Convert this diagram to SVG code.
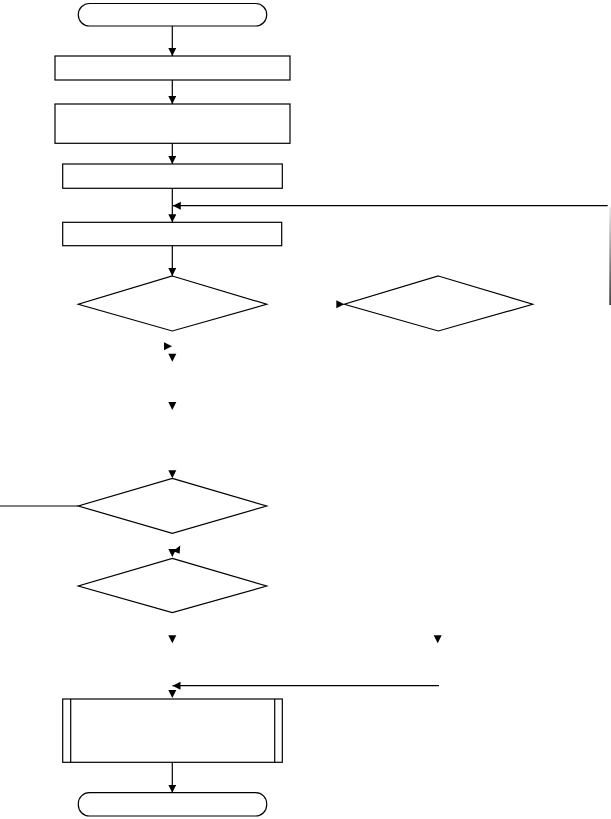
<svg xmlns="http://www.w3.org/2000/svg" xmlns:xlink="http://www.w3.org/1999/xlink" width="611" height="819" viewBox="0 0 611 819">
  <style>
    .shape { fill: #ffffff; stroke: #000000; stroke-width: 1.2; }
    .conn { fill: none; stroke: #000000; stroke-width: 1.2; }
    .head { fill: #000000; stroke: none; }
  </style>
  <defs>
    <marker id="arrow" markerUnits="userSpaceOnUse" markerWidth="9" markerHeight="9" refX="8" refY="4" orient="auto">
      <path d="M0,0 L8,4 L0,8 z" fill="#000000"/>
    </marker>
    <polygon id="ahDown" points="-4,-8 4,-8 0,0"/>
    <linearGradient id="fade" x1="0" y1="0" x2="0" y2="1">
      <stop offset="0" stop-color="#e6e6e6"/>
      <stop offset="1" stop-color="#111111"/>
    </linearGradient>
  </defs>
  <rect width="611" height="819" fill="#ffffff"/>

  <g id="start">
    <rect class="shape" x="78.3" y="3.5" width="188.4" height="22.5" rx="11" ry="11"/>
  </g>
  <g id="box1">
    <rect class="shape" x="55" y="56" width="235" height="24"/>
  </g>
  <g id="box2">
    <rect class="shape" x="55" y="104" width="235" height="39.3"/>
  </g>
  <g id="box3">
    <rect class="shape" x="62.7" y="164" width="219.6" height="24.3"/>
  </g>
  <g id="box4">
    <rect class="shape" x="62.7" y="222.3" width="219" height="23.4"/>
  </g>
  <g id="decision1">
    <polygon class="shape" points="172.3,276 266.7,304.3 172.3,331 78.3,304.3"/>
  </g>
  <g id="decision2">
    <polygon class="shape" points="438.3,276 532.7,304.3 438.3,331 344.3,304.3"/>
  </g>
  <g id="decision3">
    <polygon class="shape" points="172.3,478.3 266.7,506 172.3,533.3 78.3,506"/>
  </g>
  <g id="decision4">
    <polygon class="shape" points="172.3,558.3 266.7,586 172.3,612.7 78.3,586"/>
  </g>
  <g id="process">
    <rect class="shape" x="62.7" y="699" width="219.6" height="63.3"/>
    <line class="conn" x1="70.7" y1="699" x2="70.7" y2="762.3"/>
    <line class="conn" x1="274.7" y1="699" x2="274.7" y2="762.3"/>
  </g>
  <g id="end">
    <rect class="shape" x="78.3" y="792.7" width="188.4" height="23.3" rx="11" ry="11"/>
  </g>

  <g id="connectors">
    <line class="conn" x1="172.3" y1="26" x2="172.3" y2="56" marker-end="url(#arrow)"/>
    <line class="conn" x1="172.3" y1="80" x2="172.3" y2="104" marker-end="url(#arrow)"/>
    <line class="conn" x1="172.3" y1="143.3" x2="172.3" y2="164" marker-end="url(#arrow)"/>
    <line class="conn" x1="172.3" y1="188.3" x2="172.3" y2="222.3" marker-end="url(#arrow)"/>
    <line class="conn" x1="607.7" y1="205.7" x2="172.8" y2="205.7" marker-end="url(#arrow)"/>
    <rect x="609.4" y="206.7" width="1.4" height="98.3" fill="url(#fade)"/>
    <line class="conn" x1="172.3" y1="245.7" x2="172.3" y2="276" marker-end="url(#arrow)"/>
    <line class="conn" x1="0" y1="506" x2="78.3" y2="506"/>
    <line class="conn" x1="439" y1="685.7" x2="172.5" y2="685.7" marker-end="url(#arrow)"/>
    <line class="conn" x1="172.3" y1="762.3" x2="172.3" y2="792.7" marker-end="url(#arrow)"/>

    <polygon class="head" points="336.3,300.3 336.3,308.3 344.3,304.3"/>
    <polygon class="head" points="164,342.3 164,350.3 172,346.3"/>
    <use xlink:href="#ahDown" class="head" x="172.3" y="361.7"/>
    <use xlink:href="#ahDown" class="head" x="172.3" y="410"/>
    <use xlink:href="#ahDown" class="head" x="172.3" y="478.3"/>
    <use xlink:href="#ahDown" class="head" x="172.3" y="557"/>
    <polygon class="head" points="173,551 180.3,545.5 179.6,553.8"/>
    <use xlink:href="#ahDown" class="head" x="172.3" y="643.3"/>
    <use xlink:href="#ahDown" class="head" x="437.7" y="643.3"/>
    <use xlink:href="#ahDown" class="head" x="172.3" y="698"/>
  </g>
</svg>
